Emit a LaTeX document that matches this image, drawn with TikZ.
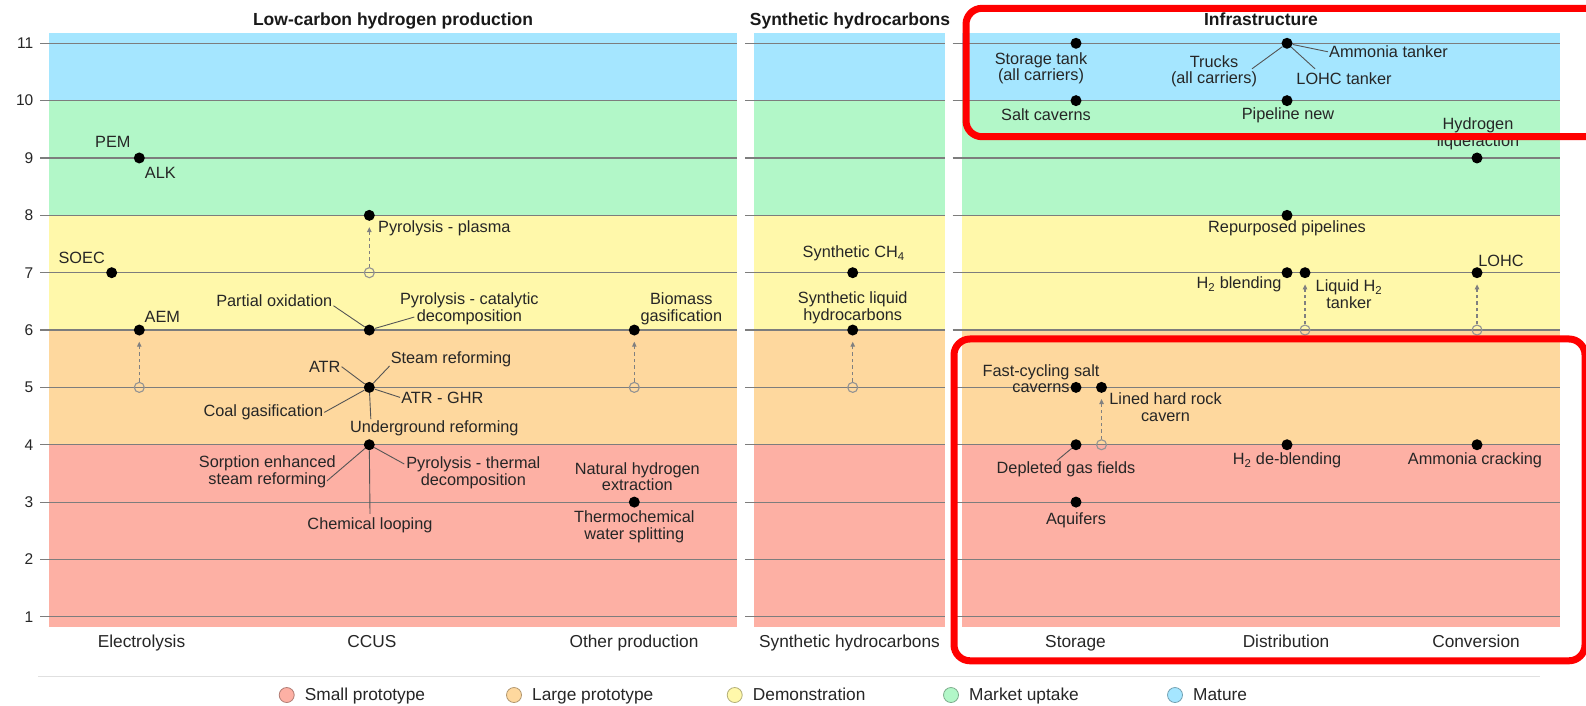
\documentclass[tikz,border=0pt]{standalone}
\usepackage{fontspec}
\setmainfont{Liberation Sans}
\usepackage{tikz}
\usetikzlibrary{arrows.meta,shapes,positioning}
\usepackage{xcolor}

\definecolor{trlred}{RGB}{253,176,164}
\definecolor{trlorange}{RGB}{254,216,158}
\definecolor{trlyellow}{RGB}{255,248,170}
\definecolor{trlgreen}{RGB}{178,247,200}
\definecolor{trlblue}{RGB}{165,230,255}
\definecolor{gridgray}{RGB}{125,125,125}
\definecolor{leadgray}{RGB}{85,85,85}
\definecolor{hilite}{RGB}{255,0,0}

\tikzset{
  tdot/.style={circle, fill=black, inner sep=0pt, minimum size=11pt},
  odot/.style={circle, draw=gray!85, line width=1.1pt, inner sep=0pt, minimum size=10pt},
  lbl/.style={font=\fontsize{16.3}{16.7}\selectfont, align=center, inner sep=1pt, text=black!85},
  ttl/.style={font=\fontsize{17.5}{18}\selectfont\bfseries, anchor=base, text=black!90},
  cat/.style={font=\fontsize{17.3}{18}\selectfont, anchor=base, text=black!85},
  axlbl/.style={font=\fontsize{15.5}{16}\selectfont, anchor=east, inner sep=0pt, text=black!85},
  gridline/.style={draw=gridgray, line width=1.1pt},
  leader/.style={draw=leadgray, line width=0.9pt},
  trend/.style={draw=gray, line width=1.1pt, dash pattern=on 3.5pt off 3pt, shorten >=6pt,
    -{Triangle[length=5pt,width=4.5pt]}},
  redbox/.style={draw=hilite, line width=7pt, rounded corners=16pt},
}

\begin{document}
\begin{tikzpicture}[x=1pt, y=57.35pt]
\path[use as bounding box, fill=white] (0,-0.538) rectangle (1586,11.755);

\foreach \xa/\xb in {49.3/736.7, 754/945, 961.7/1560} {
  \fill[trlred] (\xa,0.827) rectangle (\xb,4);
  \fill[trlorange] (\xa,4) rectangle (\xb,6);
  \fill[trlyellow] (\xa,6) rectangle (\xb,8);
  \fill[trlgreen] (\xa,8) rectangle (\xb,10);
  \fill[trlblue] (\xa,10) rectangle (\xb,11.174);
  \foreach \l in {1,...,11}
    \draw[gridline] ({\xa-9},\l) -- (\xb,\l);
}
\foreach \l in {1,...,11}
  \node[axlbl] (ax\l) at (33.5,\l) {\l};

\node[ttl] (tprod) at (393,11.305) {Low-carbon hydrogen production};
\node[ttl] (tsyn) at (850,11.305) {Synthetic hydrocarbons};
\node[ttl] (tinf) at (1261,11.305) {Infrastructure};

\foreach \cx/\txt [count=\i] in {141.5/Electrolysis, 372/CCUS, 634/Other production,
    849.5/Synthetic hydrocarbons, 1075.5/Storage, 1286/Distribution, 1476/Conversion}
  \node[cat] (cat\i) at (\cx,0.467) {\txt};

\node[tdot] (pem) at (139.3,9) {};
\node[tdot] (soec) at (111.7,7) {};
\node[tdot] (aem) at (139.3,6) {};
\node[odot] (aem0) at (139.3,5) {};
\node[tdot] (pyp) at (369.3,8) {};
\node[odot] (pyp0) at (369.3,7) {};
\node[tdot] (pox) at (369.3,6) {};
\node[tdot] (smr) at (369.3,5) {};
\node[tdot] (ser) at (369.3,4) {};
\node[tdot] (bio) at (634.3,6) {};
\node[odot] (bio0) at (634.3,5) {};
\node[tdot] (nat) at (634.3,3) {};

\node[lbl] (peml) at ([shift={(-26.5pt,16pt)}]pem) {PEM};
\node[lbl] (alkl) at ([shift={(21pt,-15pt)}]pem) {ALK};
\node[lbl] (soecl) at ([shift={(-30pt,14.4pt)}]soec) {SOEC};
\node[lbl] (aeml) at ([shift={(23pt,13.3pt)}]aem) {AEM};
\node[lbl] (pypl) at ([shift={(75pt,-13.3pt)}]pyp) {Pyrolysis - plasma};
\node[lbl] (poxl) at ([shift={(-95pt,29.3pt)}]pox) {Partial oxidation};
\node[lbl] (pcdl) at ([shift={(100pt,21.5pt)}]pox) {Pyrolysis - catalytic\\decomposition};
\node[lbl] (atrl) at ([shift={(-44.6pt,20.7pt)}]smr) {ATR};
\node[lbl] (smrl) at ([shift={(81.7pt,28.4pt)}]smr) {Steam reforming};
\node[lbl] (ghrl) at ([shift={(73pt,-10pt)}]smr) {ATR - GHR};
\node[lbl] (coall) at ([shift={(-106pt,-25pt)}]smr) {Coal gasification};
\node[lbl] (ugrl) at ([shift={(65pt,-40.6pt)}]smr) {Underground reforming};
\node[lbl] (serl) at ([shift={(-102pt,-27pt)}]ser) {Sorption enhanced\\steam reforming};
\node[lbl] (ptdl) at ([shift={(104pt,-28.3pt)}]ser) {Pyrolysis - thermal\\decomposition};
\node[lbl] (chll) at ([shift={(0.7pt,-81pt)}]ser) {Chemical looping};
\node[lbl] (biol) at ([shift={(47pt,21.5pt)}]bio) {Biomass\\gasification};
\node[lbl] (natl) at ([shift={(3pt,25.4pt)}]nat) {Natural hydrogen\\extraction};
\node[lbl] (tcwl) at ([shift={(0pt,-25pt)}]nat) {Thermochemical\\water splitting};

\node[tdot] (ch4) at (852.7,7) {};
\node[tdot] (slh) at (852.7,6) {};
\node[odot] (slh0) at (852.7,5) {};
\node[lbl] (ch4l) at ([shift={(1pt,19.4pt)}]ch4) {Synthetic CH\textsubscript{4}};
\node[lbl] (slhl) at ([yshift=22.5pt]slh) {Synthetic liquid\\hydrocarbons};

\node[tdot] (stt) at (1076,11) {};
\node[tdot] (trk) at (1287,11) {};
\node[tdot] (salt) at (1076,10) {};
\node[tdot] (pipe) at (1287,10) {};
\node[tdot] (hliq) at (1477,9) {};
\node[tdot] (rep) at (1287,8) {};
\node[tdot] (h2b) at (1287,7) {};
\node[tdot] (lh2) at (1305,7) {};
\node[odot] (lh20) at (1305,6) {};
\node[tdot] (lohc) at (1477,7) {};
\node[odot] (lohc0) at (1477,6) {};
\node[tdot] (fcs) at (1076,5) {};
\node[tdot] (lhr) at (1101.5,5) {};
\node[odot] (lhr0) at (1101.5,4) {};
\node[tdot] (dgf) at (1076,4) {};
\node[tdot] (aqf) at (1076,3) {};
\node[tdot] (hdb) at (1287,4) {};
\node[tdot] (amc) at (1477,4) {};

\node[lbl] (sttl) at ([shift={(-35pt,-25pt)}]stt) {Storage tank\\(all carriers)};
\node[lbl] (trkl) at ([shift={(-73pt,-28pt)}]trk) {Trucks\\(all carriers)};
\node[lbl] (amtl) at ([shift={(101.5pt,-8.5pt)}]trk) {Ammonia tanker};
\node[lbl] (lohctl) at ([shift={(57pt,-35.5pt)}]trk) {LOHC tanker};
\node[lbl] (saltl) at ([shift={(-30pt,-14pt)}]salt) {Salt caverns};
\node[lbl] (pipel) at ([shift={(1pt,-14.5pt)}]pipe) {Pipeline new};
\node[lbl] (hliql) at ([shift={(1pt,24.5pt)}]hliq) {Hydrogen\\liquefaction};
\node[lbl] (repl) at ([yshift=-13.3pt]rep) {Repurposed pipelines};
\node[lbl] (h2bl) at ([shift={(-48pt,-11.5pt)}]h2b) {H\textsubscript{2} blending};
\node[lbl] (lh2l) at ([shift={(44pt,-21.7pt)}]lh2) {Liquid H\textsubscript{2}\\tanker};
\node[lbl] (lohcl) at ([shift={(24pt,11.7pt)}]lohc) {LOHC};
\node[lbl] (fcsl) at ([shift={(-35pt,8.6pt)}]fcs) {Fast-cycling salt\\caverns};
\node[lbl] (lhrl) at ([shift={(64pt,-19.7pt)}]lhr) {Lined hard rock\\cavern};
\node[lbl] (dgfl) at ([shift={(-10pt,-24.6pt)}]dgf) {Depleted gas fields};
\node[lbl] (aqfl) at ([yshift=-17.8pt]aqf) {Aquifers};
\node[lbl] (hdbl) at ([yshift=-15.5pt]hdb) {H\textsubscript{2} de-blending};
\node[lbl] (amcl) at ([shift={(-2pt,-15.5pt)}]amc) {Ammonia cracking};

\draw[leader] (pox) -- ([yshift=-5pt]poxl.east);
\draw[leader] (pox) -- ([shift={(-55pt,-8.5pt)}]pcdl.center);
\draw[leader] (smr) -- (atrl.east);
\draw[leader] (smr) -- ([yshift=-7pt]smrl.west);
\draw[leader] (smr) -- (ghrl.west);
\draw[leader] (smr) -- (coall.east);
\draw[leader] (smr) -- ([xshift=22pt]ugrl.north west);
\draw[leader] (ser) -- ([shift={(59.5pt,-9.3pt)}]serl.center);
\draw[leader] (ser) -- ([shift={(-69pt,9pt)}]ptdl.center);
\draw[leader] (ser) -- ([yshift=3pt]chll.north);
\draw[leader] (trk) -- ([shift={(38pt,2.5pt)}]trkl.center);
\draw[leader] (trk) -- (amtl.west);
\draw[leader] (trk) -- ([shift={(-29pt,10pt)}]lohctl.center);
\draw[leader] (dgf) -- ([xshift=-9pt]dgfl.north);

\draw[trend] (aem0) -- (aem);
\draw[trend] (pyp0) -- (pyp);
\draw[trend] (bio0) -- (bio);
\draw[trend] (slh0) -- (slh);
\draw[trend] (lh20) -- (lh2);
\draw[trend] (lohc0) -- (lohc);
\draw[trend] (lhr0) -- (lhr);

\draw[draw=black!12, line width=1pt] (38,-0.041) -- (1540,-0.041);
\foreach \cx/\col/\txt [count=\i] in {286.7/trlred/Small prototype, 514/trlorange/Large prototype,
    734.7/trlyellow/Demonstration, 951/trlgreen/Market uptake, 1175/trlblue/Mature} {
  \node[circle, fill=\col, draw=\col!70!black, line width=0.8pt, inner sep=0pt, minimum size=15pt]
    (lgc\i) at (\cx,-0.364) {};
  \node[cat, anchor=base west, inner sep=0pt] (lgt\i) at ({\cx+18},-0.451) {\txt};
}

\draw[redbox] (966,9.371) rectangle (1600,11.610);
\draw[redbox] (954,0.233) rectangle (1585,5.844);
\end{tikzpicture}
\end{document}
